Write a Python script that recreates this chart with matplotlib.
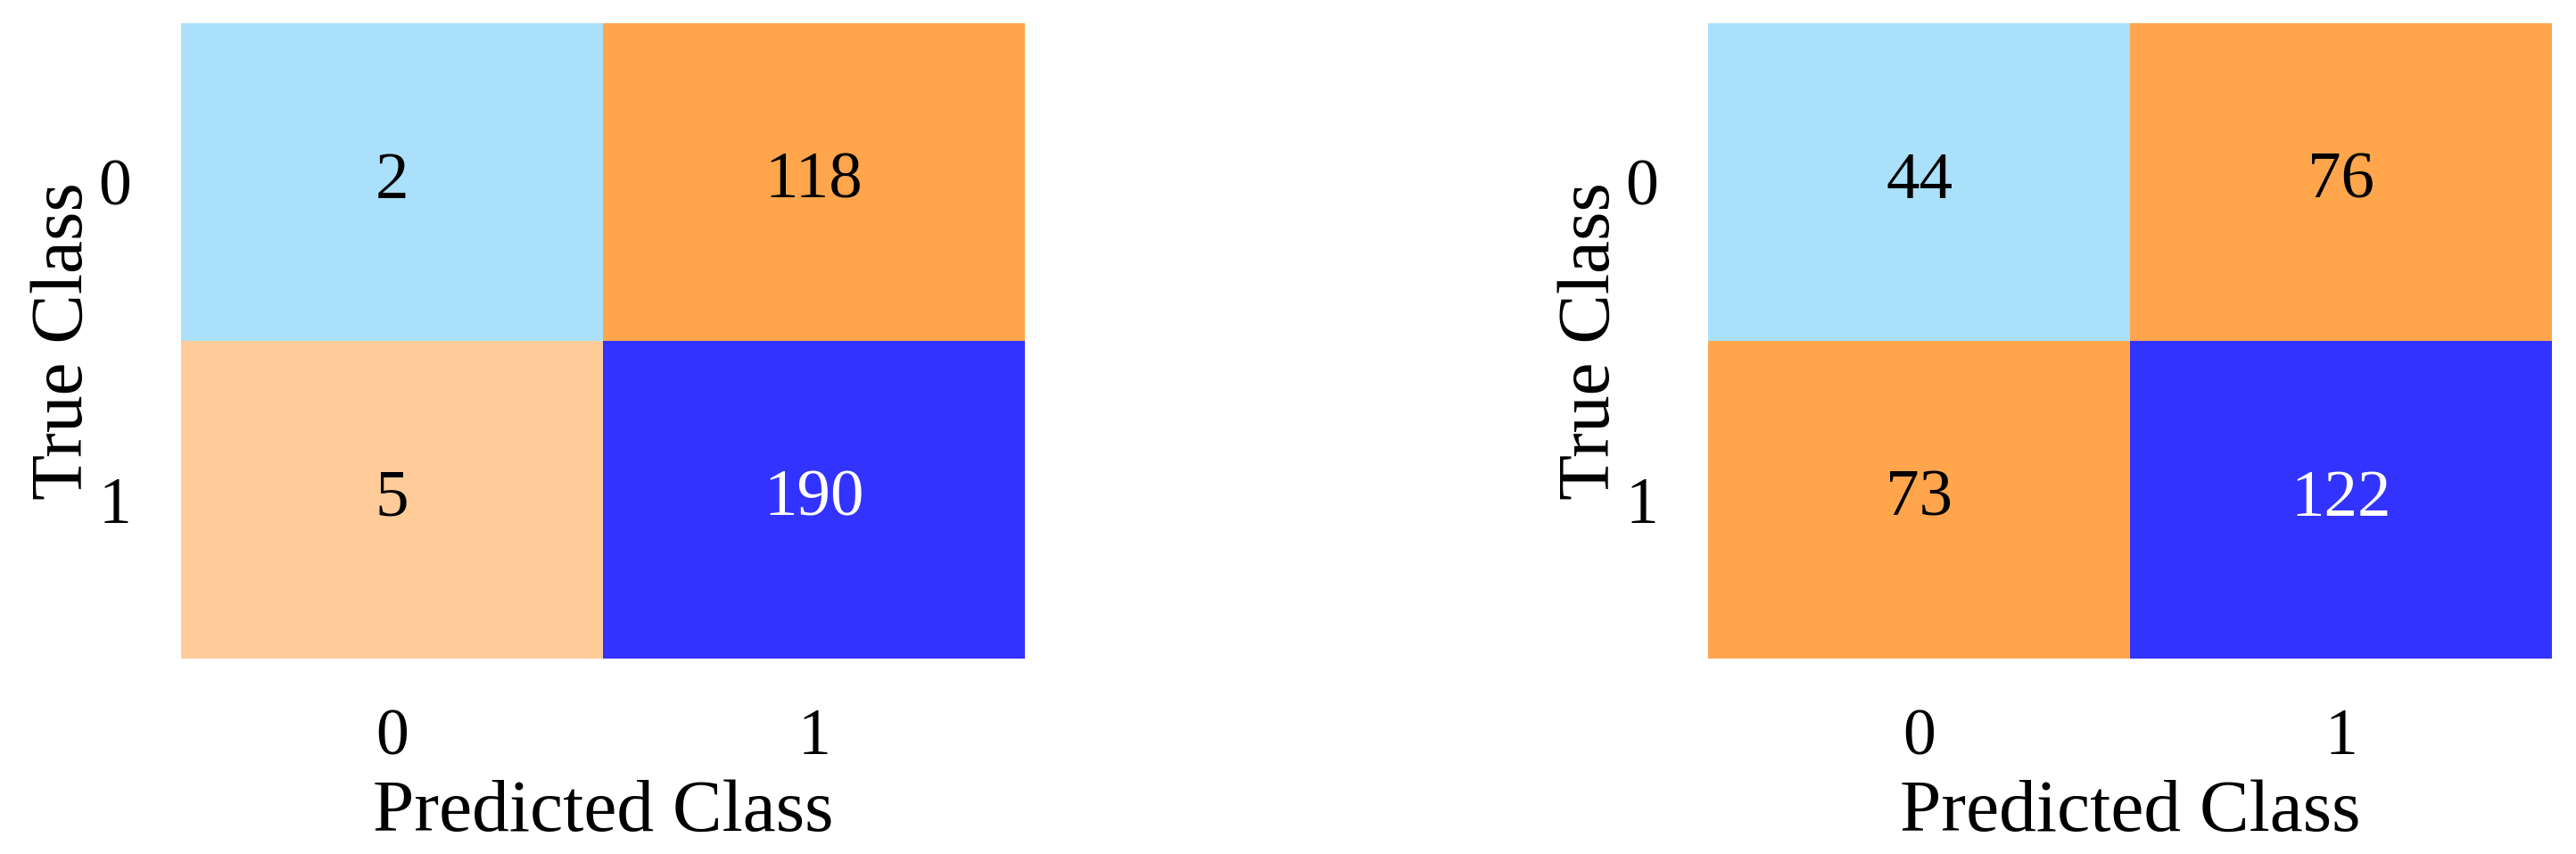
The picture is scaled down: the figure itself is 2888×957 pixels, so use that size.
import numpy as np
import matplotlib
matplotlib.use("Agg")
import matplotlib.pyplot as plt
from matplotlib.colors import ListedColormap, BoundaryNorm

plt.rcParams["font.family"] = ["Liberation Serif", "DejaVu Serif"]

# 混淆矩阵数据
class_labels = ["0", "1"]
cm_left = np.array([[2, 118],
                    [5, 190]])
cm_right = np.array([[44, 76],
                     [73, 122]])

# 颜色分段
cell_colors = ["#AAE0FA", "#FFCC99", "#FFA64D", "#3333FF"]
bounds_left = [0, 4, 60, 150, 250]
bounds_right = [0, 50, 60, 100, 250]

cmap = ListedColormap(cell_colors)


def draw_cm(ax, cm, bounds):
    norm = BoundaryNorm(bounds, cmap.N)
    ax.pcolormesh(cm, cmap=cmap, norm=norm)
    ax.set_xlim(0, cm.shape[1])
    ax.set_ylim(cm.shape[0], 0)
    for i in range(cm.shape[0]):
        for j in range(cm.shape[1]):
            rgba = cmap(norm(cm[i, j]))
            lum = 0.2126 * rgba[0] + 0.7152 * rgba[1] + 0.0722 * rgba[2]
            ax.text(j + 0.5, i + 0.5, str(cm[i, j]), ha="center", va="center",
                    fontsize=54, color="black" if lum > 0.4 else "white")
    ax.set_xticks(np.arange(len(class_labels)) + 0.5)
    ax.set_yticks(np.arange(len(class_labels)) + 0.5)
    ax.set_xticklabels(class_labels, fontsize=53)
    ax.set_yticklabels(class_labels, fontsize=53, rotation=0)
    ax.tick_params(axis="x", length=0, pad=40)
    ax.tick_params(axis="y", length=0, pad=40)
    ax.set_xlabel("Predicted Class", fontsize=60, labelpad=9)
    ax.set_ylabel("True Class", fontsize=60, labelpad=1)
    for s in ax.spines.values():
        s.set_visible(False)


fig = plt.figure(figsize=(28.88, 9.57), dpi=100)
ax1 = fig.add_axes([0.0703, 0.2288, 0.3276, 0.744])
ax2 = fig.add_axes([0.6631, 0.2288, 0.3276, 0.744])
draw_cm(ax1, cm_left, bounds_left)
draw_cm(ax2, cm_right, bounds_right)
plt.savefig("out.png", dpi=100)
